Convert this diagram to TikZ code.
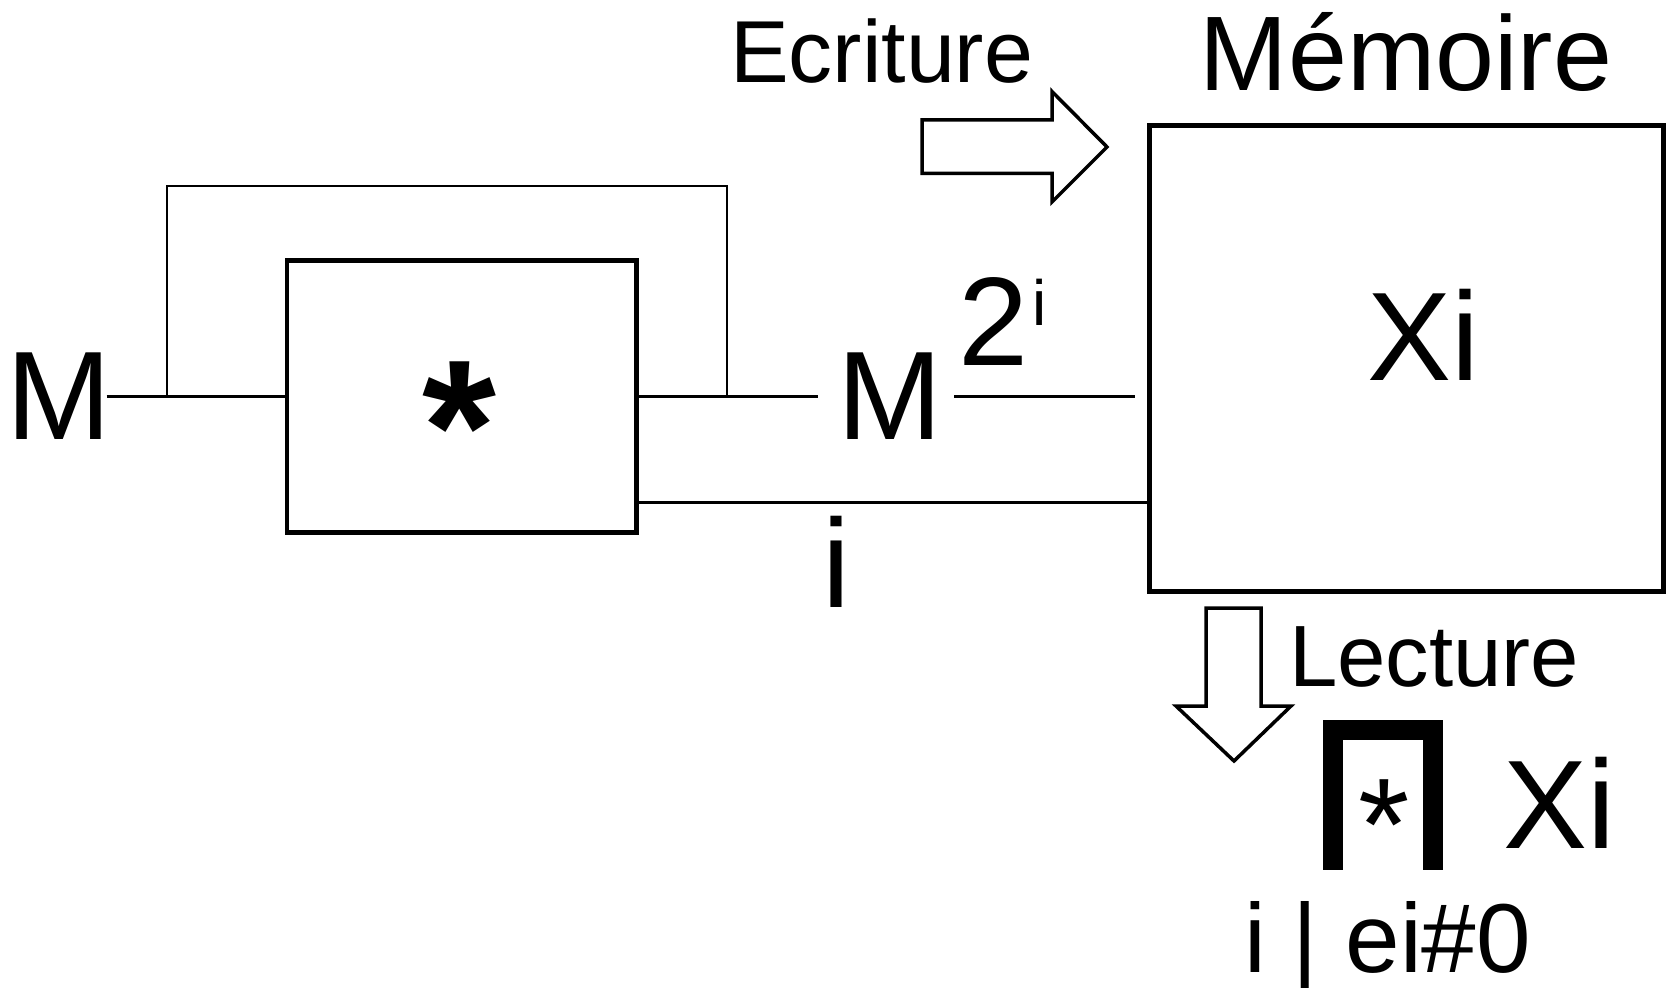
\documentclass[tikz,border=0pt]{standalone}
\usepackage{fontspec}
\setmainfont{Liberation Sans}

\begin{document}
\begin{tikzpicture}[x=1pt, y=-1pt,
        every node/.style={inner sep=0pt, outer sep=0pt},
        big/.style={font=\fontsize{126}{130}\selectfont},
        blockbox/.style={rectangle, draw, line width=4.5pt},
        wire/.style={line width=2.2pt},
        thinwire/.style={line width=1.6pt},
        hollow/.style={draw, line width=3.5pt, line join=miter}]
    \useasboundingbox (0,0) rectangle (1669,987);
    % multiplier block
    \node[blockbox, minimum width=349.5pt, minimum height=272pt] (mul) at (461.75,396.5) {};
    \node[font=\bfseries\fontsize{190}{190}\selectfont, anchor=north] (star) at (459.5,362) {*};
    % memory block
    \node[blockbox, minimum width=514pt, minimum height=466pt] (mem) at (1406.6,358.7) {};
    \node[big, anchor=base] (xi) at (1423,380) {Xi};
    \node[font=\fontsize{106}{110}\selectfont, anchor=base] (memlbl) at (1406,90.5) {Mémoire};
    % signals
    \node[big, anchor=base] (min) at (58.5,439.6) {M};
    \node[big, anchor=base west] (mout) at (837,439.6) {M\hspace{17pt}\raisebox{74.6pt}{2\hspace{3pt}\raisebox{40pt}{\fontsize{64}{66}\selectfont i}}};
    \node[big, anchor=base] (idx) at (836,607) {i};
    \coordinate (inl) at (106.5,396.5);
    \coordinate (fbl) at (167,396.5);
    \coordinate (fbr) at (727,396.5);
    \coordinate (outr) at (817.5,396.5);
    \coordinate (meml) at (954,396.5);
    \coordinate (memr) at (1135,396.5);
    \coordinate (ilvl) at (0,502.5);
    \draw[wire] (inl) -- (mul.west);
    \draw[wire] (mul.east) -- (outr);
    \draw[thinwire] (fbl) -- ++(0,-210.5) -| (fbr);
    \draw[wire] (meml) -- (memr);
    \draw[wire] (mul.east |- ilvl) -- (mem.west |- ilvl);
    % write / read
    \node[font=\fontsize{88}{92}\selectfont, anchor=base west] (ecr) at (730,83) {Ecriture};
    \draw[hollow] (922,120) -- (1052,120) -- (1052,91.5) -- (1107,147) -- (1052,202) -- (1052,173.5) -- (922,173.5) -- cycle;
    \node[font=\fontsize{87}{91}\selectfont, anchor=base west] (lec) at (1289,686.5) {Lecture};
    \draw[hollow] (1206,608) -- (1261,608) -- (1261,706) -- (1291,706) -- (1234,761) -- (1176,706) -- (1206,706) -- cycle;
    % product
    \draw[line width=20pt, line join=miter] (1333,869.6) -- (1333,729.5) -- (1432.5,729.5) -- (1432.5,869.6);
    \node[font=\fontsize{132}{132}\selectfont, anchor=north] (pstar) at (1384,780) {*};
    \node[big, anchor=base west] (xires) at (1503,848) {Xi};
    \node[font=\fontsize{98}{102}\selectfont, anchor=base west] (cond) at (1244,972) {i | ei\#0};
\end{tikzpicture}
\end{document}
